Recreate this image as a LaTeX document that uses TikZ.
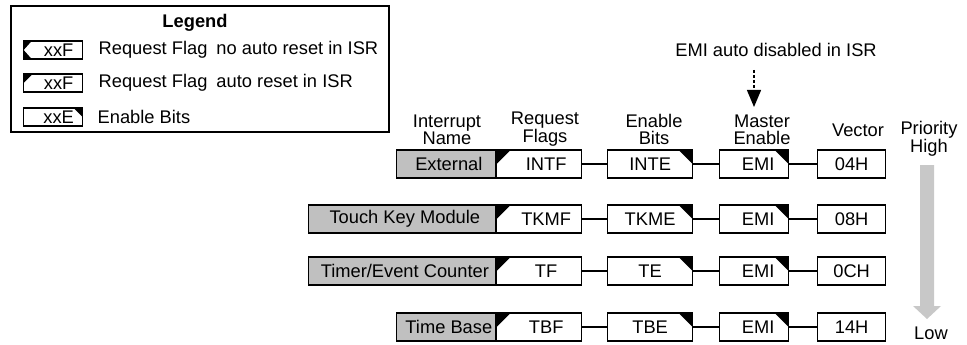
\documentclass[tikz,border=0pt]{standalone}
\usepackage{fontspec}
\setmainfont{Liberation Sans}
\usetikzlibrary{arrows.meta}
\definecolor{namegrey}{RGB}{192,192,192}
\definecolor{arrowgrey}{RGB}{200,200,200}

\begin{document}
\begin{tikzpicture}[x = 1pt, y = -1pt, line width = 1.3pt,
    every node/.style = {font = \fontsize{18.3}{17}\selectfont, inner sep = 0pt},
    head/.style = {align = center},
    cornerNW/.style = {path picture = {\fill [black] (path picture bounding box.north west) -- ++(#1,0pt) -- ++(-#1,-#1) -- cycle;}},
    cornerNE/.style = {path picture = {\fill [black] (path picture bounding box.north east) -- ++(-#1,0pt) -- ++(#1,-#1) -- cycle;}},
    cornerW/.style = {path picture = {\fill [black] (path picture bounding box.north west) -- ++(#1,0pt) -- ++(-#1,-9pt) -- cycle;
        \fill [black] (path picture bounding box.south west) -- ++(#1,0pt) -- ++(-#1,9pt) -- cycle;}},
    namebox/.style = {draw, fill = namegrey, minimum height = 28pt, anchor = east, execute at begin node = \hspace*{6pt}},
    flagbox/.style = {draw, fill = white, minimum width = 85pt, minimum height = 28pt, anchor = west,
        execute at begin node = \hspace*{14pt}, cornerNW = 14pt},
    enbox/.style = {draw, fill = white, minimum width = 85pt, minimum height = 28pt, anchor = west, cornerNE = 14pt},
    emibox/.style = {draw, fill = white, minimum width = 69pt, minimum height = 28pt, anchor = west,
        execute at begin node = \hspace*{8pt}, cornerNE = 14pt},
    vecbox/.style = {draw, fill = white, minimum width = 68pt, minimum height = 28pt, anchor = west},
    legbox/.style = {draw, fill = white, minimum width = 59pt, minimum height = 18pt, anchor = west,
        execute at begin node = \hspace*{11pt}}
]
    \useasboundingbox (0,0) rectangle (967,345);

    \draw (11,6) rectangle (389,132);
    \node (legend) at (195,23) [font = \fontsize{18.3}{17}\selectfont\bfseries] {Legend};
    \node (lnoreset) at (23,50) [legbox, cornerW = 8pt] {xxF};
    \node (lreset) at (23,83) [legbox, cornerNW = 9pt] {xxF};
    \node (lenable) at (23,117) [legbox, cornerNE = 9pt] {xxE};
    \node (tnoreset) at (98,50) [anchor = west] {Request Flag\hspace{9pt}no auto reset in ISR};
    \node (treset) at (98,83) [anchor = west] {Request Flag\hspace{9pt}auto reset in ISR};
    \node (tenable) at (97,117) [anchor = west] {Enable Bits};

    \node (isr) at (776,50) {EMI auto disabled in ISR};
    \coordinate (isrtop) at (754,70);
    \coordinate (isrtip) at (754,107);
    \draw [dash pattern = on 3pt off 2pt, -{Triangle[width = 14pt, length = 17pt]}] (isrtop) -- (isrtip);

    \node (hname) at (447,129.5) [head] {Interrupt\\Name};
    \node (hflag) at (545,129.5) [head] {Request\\Flags};
    \node (hen) at (654,129.5) [head] {Enable\\Bits};
    \node (hemi) at (762,129.5) [head] {Master\\Enable};
    \node (hvec) at (858,130) {Vector};
    \node (hprio) at (929,138.5) [head] {Priority\\High};

    \node (ext) at (496,164) [namebox, minimum width = 99pt] {External};
    \node (intf) at (496,164) [flagbox] {INTF};
    \node (inte) at (607,164) [enbox] {INTE};
    \node (emia) at (719,164) [emibox] {EMI};
    \node (v04) at (817,164) [vecbox] {04H};

    \node (tkm) at (496,219) [namebox, minimum width = 187pt] {Touch Key Module};
    \node (tkmf) at (496,219) [flagbox] {TKMF};
    \node (tkme) at (607,219) [enbox] {TKME};
    \node (emib) at (719,219) [emibox] {EMI};
    \node (v08) at (817,219) [vecbox] {08H};

    \node (tec) at (496,271) [namebox, minimum width = 187pt] {Timer/Event Counter};
    \node (tf) at (496,271) [flagbox] {TF};
    \node (te) at (607,271) [enbox] {TE};
    \node (emic) at (719,271) [emibox] {EMI};
    \node (v0c) at (817,271) [vecbox] {0CH};

    \node (tb) at (496,327) [namebox, minimum width = 99pt] {Time Base};
    \node (tbf) at (496,327) [flagbox] {TBF};
    \node (tbe) at (607,327) [enbox] {TBE};
    \node (emid) at (719,327) [emibox] {EMI};
    \node (v14) at (817,327) [vecbox] {14H};

    \draw (intf) -- (inte);
    \draw (inte) -- (emia);
    \draw (emia) -- (v04);
    \draw (tkmf) -- (tkme);
    \draw (tkme) -- (emib);
    \draw (emib) -- (v08);
    \draw (tf) -- (te);
    \draw (te) -- (emic);
    \draw (emic) -- (v0c);
    \draw (tbf) -- (tbe);
    \draw (tbe) -- (emid);
    \draw (emid) -- (v14);

    \fill [arrowgrey] (920,165) -- (934,165) -- (934,306) -- (941,306) -- (927,319) -- (913,306) -- (920,306) -- cycle;
    \node (low) at (931,333) {Low};
\end{tikzpicture}
\end{document}
